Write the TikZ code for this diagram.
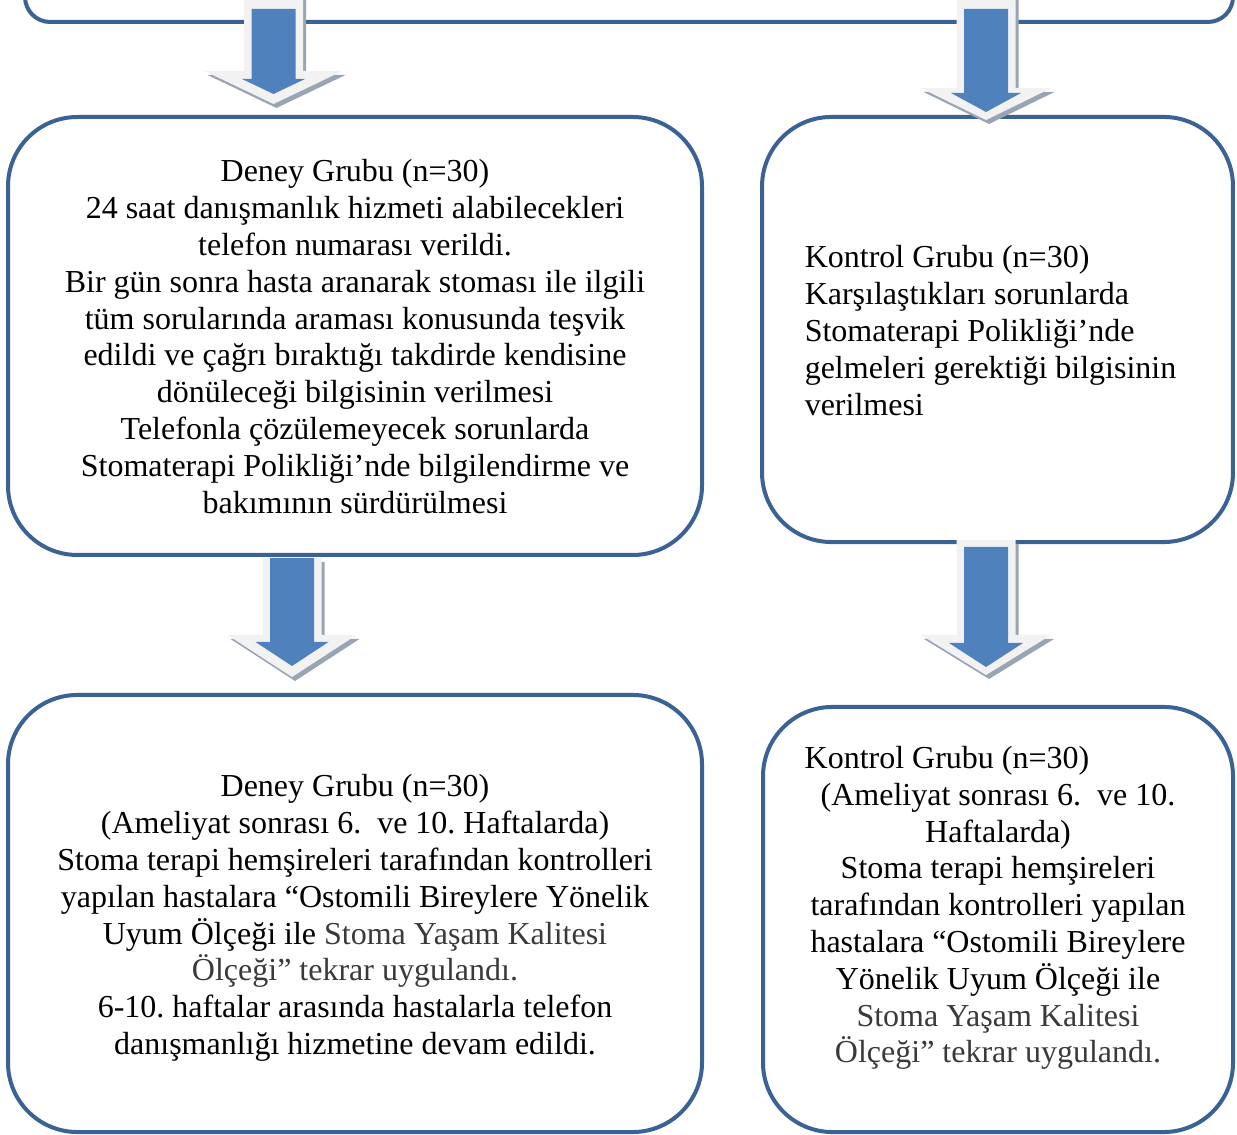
\documentclass[tikz,border=0pt]{standalone}
\usepackage{fontspec}
\setmainfont{Liberation Serif}
\usepackage{xcolor}
\definecolor{BoxBlue}{HTML}{3A6294}
\definecolor{ArrowBlue}{HTML}{4F81BD}
\definecolor{ArrowRim}{HTML}{F2F2F2}
\definecolor{ArrowShade}{HTML}{9AA5B4}
\definecolor{SoftText}{HTML}{3A3A3A}
\usetikzlibrary{positioning, calc}
\frenchspacing
\tikzset{
  % Box styles
  groupbox/.style={rectangle, rounded corners=26pt, draw=BoxBlue, line width=1.5pt, fill=white, inner sep=0pt},
  grouptext/.style={align=center, inner sep=0pt, font=\fontsize{12}{13.8}\selectfont},
  % Arrow styles
  arrowshade/.style={fill=ArrowShade},
  arrowrim/.style={fill=ArrowRim},
  arrowbody/.style={fill=ArrowBlue}
}

\begin{document}
\begin{tikzpicture}[x=0.375pt, y=-0.375pt]
  \useasboundingbox (0,0) rectangle (1237,1135);
  \clip (0,0) rectangle (1237,1135);

  % Top box (cut by the page edge)
  \node[groupbox, rounded corners=9.4pt, minimum width=453pt, minimum height=46.5pt] (giris) at (629,-40) {};

  % Boxes
  \node[groupbox, minimum width=260.25pt, minimum height=164.25pt] (deney1) at (355,336) {};
  \node[groupbox, minimum width=176.6pt, minimum height=159.4pt] (kontrol1) at (997.5,329.5) {};
  \node[groupbox, minimum width=260.25pt, minimum height=163.9pt] (deney2) at (355,913.5) {};
  \node[groupbox, minimum width=176.25pt, minimum height=159.4pt] (kontrol2) at (998,919.5) {};

  % Texts
  \node[grouptext] (deney1text) at (355,336.5) {
    Deney Grubu (n=30)\\
    24 saat danışmanlık hizmeti alabilecekleri\\
    telefon numarası verildi.\\
    Bir gün sonra hasta aranarak stoması ile ilgili\\
    tüm sorularında araması konusunda teşvik\\
    edildi ve çağrı bıraktığı takdirde kendisine\\
    dönüleceği bilgisinin verilmesi\\
    Telefonla çözülemeyecek sorunlarda\\
    Stomaterapi Polikliği’nde bilgilendirme ve\\
    bakımının sürdürülmesi
  };
  \node[grouptext, align=left] (kontrol1text) at (990.5,330.5) {
    Kontrol Grubu (n=30)\\
    Karşılaştıkları sorunlarda\\
    Stomaterapi Polikliği’nde\\
    gelmeleri gerektiği bilgisinin\\
    verilmesi
  };
  \node[grouptext] (deney2text) at (355,918) {
    Deney Grubu (n=30)\\
    (Ameliyat sonrası 6.\ \ ve 10. Haftalarda)\\
    Stoma terapi hemşireleri tarafından kontrolleri\\
    yapılan hastalara “Ostomili Bireylere Yönelik\\
    Uyum Ölçeği ile {\color{SoftText}Stoma Yaşam Kalitesi}\\
    {\color{SoftText}Ölçeği” tekrar uygulandı.}\\
    6-10. haftalar arasında hastalarla telefon\\
    danışmanlığı hizmetine devam edildi.
  };
  \node[grouptext] (kontrol2text) at (998,908) {
    \makebox[145pt][l]{Kontrol Grubu (n=30)}\\
    (Ameliyat sonrası 6.\ \ ve 10.\\
    Haftalarda)\\
    Stoma terapi hemşireleri\\
    tarafından kontrolleri yapılan\\
    hastalara “Ostomili Bireylere\\
    Yönelik Uyum Ölçeği ile\\
    {\color{SoftText}Stoma Yaşam Kalitesi}\\
    {\color{SoftText}Ölçeği” tekrar uygulandı.}
  };

  % Block arrows: x/top/head/tip/half head of rim, then top/head/tip/half head of body
  \foreach \cx/\ya/\yb/\yc/\wa/\ba/\bb/\bc/\wb in {273.5/-5/71/104/69/9/79/94/31.5, 986/-5/88/120/65.5/9/93/112/35, 292/558/635/677/64.5/558/642/666/36.5, 986/540/635/675/65/547/643/667/37} {
    \fill[arrowshade, shift={(3,4)}] (\cx-29.5,\ya) -- (\cx+29.5,\ya) -- (\cx+29.5,\yb) -- (\cx+\wa,\yb) -- (\cx,\yc) -- (\cx-\wa,\yb) -- (\cx-29.5,\yb) -- cycle;
    \fill[arrowrim] (\cx-29.5,\ya) -- (\cx+29.5,\ya) -- (\cx+29.5,\yb) -- (\cx+\wa,\yb) -- (\cx,\yc) -- (\cx-\wa,\yb) -- (\cx-29.5,\yb) -- cycle;
    \fill[arrowbody] (\cx-22,\ba) -- (\cx+22,\ba) -- (\cx+22,\bb) -- (\cx+\wb,\bb) -- (\cx,\bc) -- (\cx-\wb,\bb) -- (\cx-22,\bb) -- cycle;
  }
\end{tikzpicture}
\end{document}
